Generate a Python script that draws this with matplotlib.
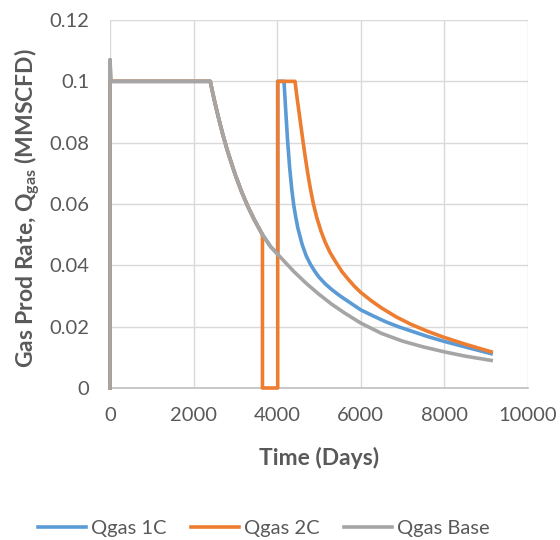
import matplotlib
matplotlib.use("Agg")
import matplotlib.pyplot as plt

# --- Data (days, MMSCFD) ---
# common early history: start-up spike, plateau, base decline
days_hist = [0, 1, 15, 2400, 2450, 2500, 2600, 2700, 2800, 2900, 3000, 3150,
             3300, 3450, 3650]
q_hist = [0.0, 0.107, 0.100, 0.100, 0.0968, 0.0937, 0.0880, 0.0827, 0.0779, 0.0736,
          0.0695, 0.0640, 0.0592, 0.0550, 0.0500]

# Base case continues declining
days_base_tail = [3850, 4070, 4400, 4700, 5000, 5300, 5600, 6000, 6500, 7000,
                  7500, 8000, 8500, 9125]
q_base_tail = [0.0460, 0.0428, 0.0380, 0.0341, 0.0306, 0.0274, 0.0246, 0.0212,
               0.0178, 0.0153, 0.0134, 0.0118, 0.0104, 0.0090]

# 1C: follows base, back to plateau at 4015, declines from ~4166
days_1c_tail = [3850, 4015, 4015, 4166, 4200, 4250, 4300, 4350, 4400, 4450, 4500,
                4600, 4700, 4800, 4900, 5000, 5150, 5300, 5500, 5750, 6000, 6300,
                6600, 6900, 7250, 7600, 8000, 8500, 9125]
q_1c_tail = [0.0460, 0.0437, 0.100, 0.100, 0.092, 0.081, 0.072, 0.065, 0.0595, 0.0555,
             0.052, 0.0468, 0.0430, 0.0403, 0.0381, 0.0362, 0.0340, 0.0322, 0.0301,
             0.0278, 0.0255, 0.0235, 0.0216, 0.0200, 0.0184, 0.0168, 0.0152, 0.0134,
             0.0112]

# 2C: shut in at 3650, back on plateau at 4015, declines from ~4429
days_2c_tail = [3650, 4015, 4015, 4429, 4470, 4520, 4570, 4620, 4680, 4740, 4800,
                4870, 4950, 5050, 5150, 5267, 5400, 5550, 5700, 5850, 6000, 6250,
                6500, 6863, 7200, 7600, 8000, 8500, 9125]
q_2c_tail = [0.0, 0.0, 0.100, 0.100, 0.0955, 0.0905, 0.0855, 0.0805, 0.0748, 0.0695,
             0.0648, 0.0600, 0.0556, 0.0512, 0.0476, 0.0442, 0.0412, 0.0380, 0.0355,
             0.0332, 0.0312, 0.0285, 0.0261, 0.0231, 0.0208, 0.0185, 0.0165, 0.0143,
             0.0118]

x_ticks = [0, 2000, 4000, 6000, 8000, 10000]
y_ticks = [0, 0.02, 0.04, 0.06, 0.08, 0.1, 0.12]
y_tick_labels = ["0", "0.02", "0.04", "0.06", "0.08", "0.1", "0.12"]

# --- Style ---
plt.rcParams['font.family'] = ['Lato', 'DejaVu Sans']
plt.rcParams['mathtext.fontset'] = 'custom'
plt.rcParams['mathtext.rm'] = 'Lato'
plt.rcParams['mathtext.bf'] = 'Lato:bold'
fs = 14.5
fs_lab = 16.5
txt_col = "#595959"

fig = plt.figure(figsize=(5.6, 5.4), dpi=100)
ax = fig.add_axes([110 / 560, 1 - 388 / 540, 417.7 / 560, 368 / 540])

ax.plot(days_hist + days_1c_tail, q_hist + q_1c_tail, color="#5B9BD5", lw=2.6,
        label="Qgas 1C", clip_on=False, zorder=3)
ax.plot(days_hist + days_2c_tail, q_hist + q_2c_tail, color="#ED7D31", lw=2.6,
        label="Qgas 2C", clip_on=False, zorder=4)
ax.plot(days_hist + days_base_tail, q_hist + q_base_tail, color="#A5A5A5", lw=2.6,
        label="Qgas Base", clip_on=False, zorder=5)

ax.set_xlim(0, 10000)
ax.set_ylim(0, 0.12)
ax.set_xticks(x_ticks)
ax.set_yticks(y_ticks)
ax.set_yticklabels(y_tick_labels)
ax.grid(True, color="#D9D9D9", lw=1.0)
ax.set_axisbelow(True)
for s in ["top", "right", "left"]:
    ax.spines[s].set_visible(False)
ax.spines["bottom"].set_color("#BFBFBF")
ax.spines["bottom"].set_linewidth(1.2)
ax.tick_params(axis="both", length=0, labelsize=fs, labelcolor=txt_col)
ax.tick_params(axis="y", pad=15)
ax.tick_params(axis="x", pad=14)

ax.set_xlabel("Time (Days)", fontsize=fs_lab, fontweight="bold", color=txt_col)
ax.xaxis.label.set_va("center")
ax.xaxis.set_label_coords(0.5, -0.189)
ax.set_ylabel(r"Gas Prod Rate, Q$_{\mathbf{gas}}$ (MMSCFD)", fontsize=fs_lab,
              fontweight="bold", color=txt_col)
ax.yaxis.label.set_va("center")
ax.yaxis.set_label_coords(-0.197, 0.488)

leg = fig.legend(loc="center", bbox_to_anchor=(0.471, 0.022), ncol=3, frameon=False,
                 fontsize=fs, handlelength=2.4, handletextpad=0.25, columnspacing=1.2)
for t in leg.get_texts():
    t.set_color(txt_col)

fig.savefig("out.png", dpi=100)
